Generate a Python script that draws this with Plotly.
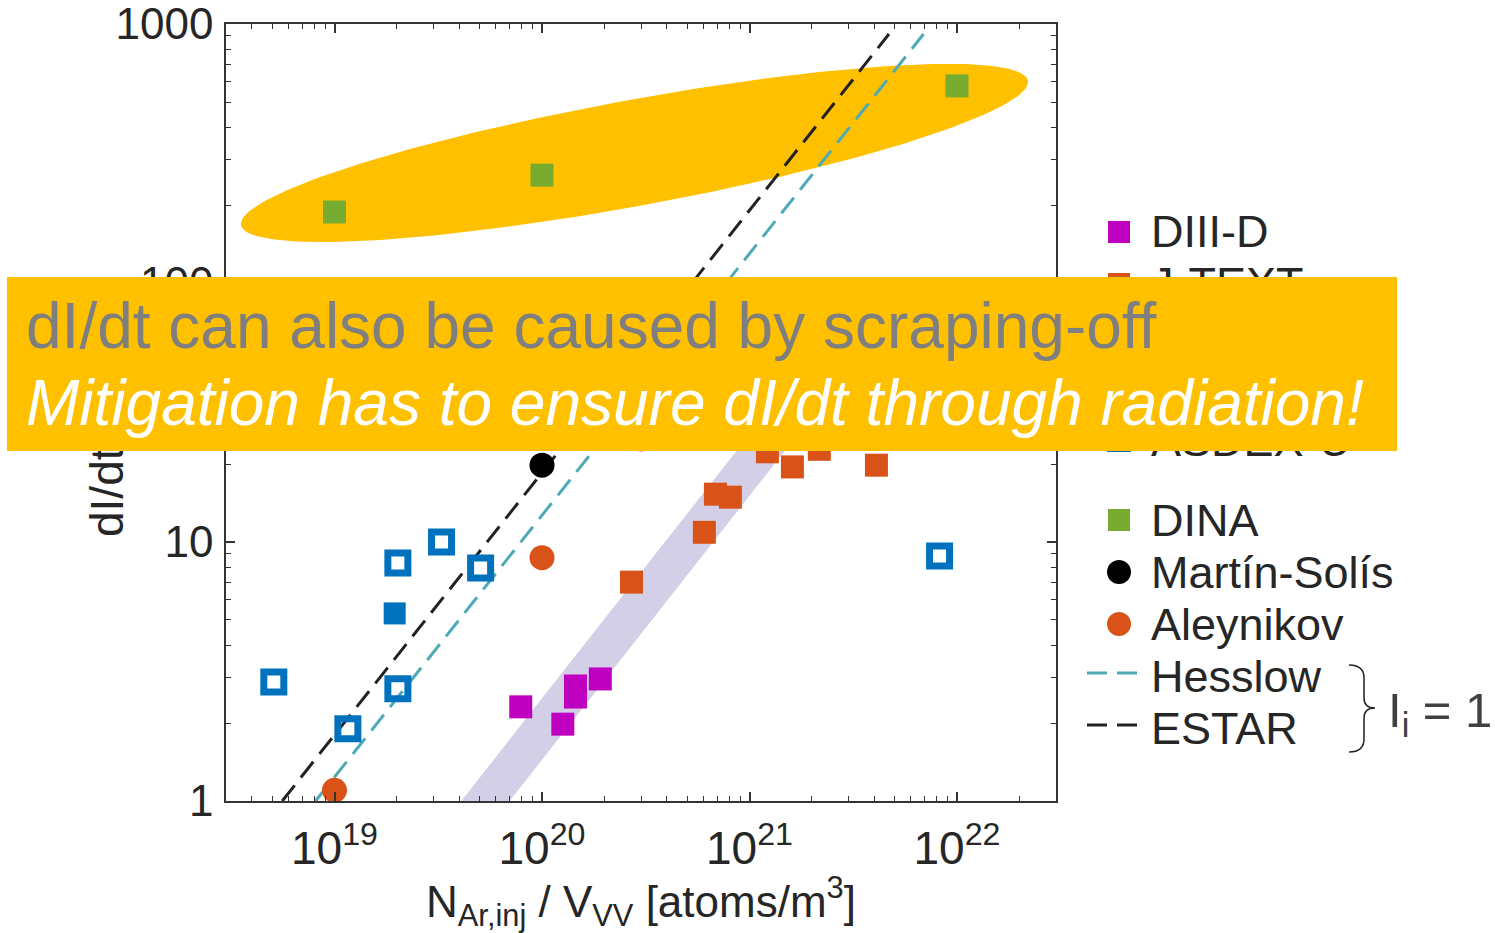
import numpy as np
import plotly.graph_objects as go

# ---------------- data ----------------
diiid_x = [7.9e19, 1.26e20, 1.45e20, 1.45e20, 1.91e20]
diiid_y = [2.31, 1.98, 2.78, 2.52, 2.96]

jtext_x = [2.70e20, 6.06e20, 6.85e20, 8.09e20, 1.22e21, 1.61e21, 2.17e21, 4.09e21]
jtext_y = [7.0, 10.9, 15.3, 14.9, 22.3, 19.5, 22.8, 19.8]

augf_x = [1.95e19]
augf_y = [5.3]

augo_x = [5.1e18, 1.16e19, 2.02e19, 2.02e19, 3.28e19, 5.06e19, 8.24e21]
augo_y = [2.88, 1.90, 2.71, 8.3, 10.0, 7.94, 8.83]

dina_x = [1e19, 1e20, 1e22]
dina_y = [188, 261, 577]

martin_x = [1e20]
martin_y = [19.8]

aley_x = [1e19, 1e20, 3.0e20]
aley_y = [1.10, 8.7, 25.0]

hesslow_x = [8.1e18, 6.9e21]
hesslow_y = [1.0, 915.0]

estar_x = [5.6e18, 4.7e21]
estar_y = [1.0, 915.0]

band_x = [2.6e19, 1.6e21]
band_y = [0.48, 32.0]

# highlighted DINA region (ellipse): centre, semi-axes (px), tilt (deg)
ell_cx, ell_cy = 2.79e20, 318.0
ell_a, ell_b, ell_tilt = 400.0, 53.0, 10.4

x_ticks = [1e19, 1e20, 1e21, 1e22]
x_ticktext = ["10<sup>19</sup>", "10<sup>20</sup>", "10<sup>21</sup>", "10<sup>22</sup>"]
y_ticks = [1, 10, 100, 1000]
y_ticktext = ["1", "10", "100", "1000"]

legend_names = ["DIII-D", "J-TEXT", "AUG (filled)", "ASDEX-U",
                "DINA", "Martín-Solís", "Aleynikov", "Hesslow", "ESTAR"]

# ---------------- layout geometry ----------------
W, H = 1495, 933
ML, MR, MT, MB = 226, 439, 24, 132
PW, PH = W - ML - MR, H - MT - MB
x_range = [np.log10(3e18), np.log10(3e22)]
y_range = [0, 3.0002]
px_per_dec_x = PW / (x_range[1] - x_range[0])
px_per_dec_y = PH / (y_range[1] - y_range[0])


def px(xp):
    return (xp - ML) / PW


def py(yp):
    return (H - MB - yp) / PH


# ellipse points in log space
t = np.linspace(0, 2 * np.pi, 240)
th = np.deg2rad(ell_tilt)
u, v = ell_a * np.cos(t), ell_b * np.sin(t)
dx = u * np.cos(th) - v * np.sin(th)
dy = u * np.sin(th) + v * np.cos(th)
ell_x = 10 ** (np.log10(ell_cx) + dx / px_per_dec_x)
ell_y = 10 ** (np.log10(ell_cy) + dy / px_per_dec_y)

BLUE = "#0072BD"
ORANGE = "#D95319"
MAGENTA = "#C000C0"
GREEN = "#77AC30"
TEAL = "#4FAAB6"
GOLD = "#FFC000"
DARK = "#222222"
DASH = "20px,10px"

fig = go.Figure()
fig.add_trace(go.Scatter(x=ell_x, y=ell_y, mode="lines", fill="toself",
                         fillcolor=GOLD, line=dict(width=0, color=GOLD),
                         showlegend=False, hoverinfo="skip"))
fig.add_trace(go.Scatter(x=band_x, y=band_y, mode="lines",
                         line=dict(width=38, color="#D2CFE7"),
                         showlegend=False, hoverinfo="skip"))

sq = dict(symbol="square", size=23, line=dict(width=0))

fig.add_trace(go.Scatter(x=hesslow_x, y=hesslow_y, mode="lines", name=legend_names[7],
                         line=dict(color=TEAL, width=3, dash=DASH)))
fig.add_trace(go.Scatter(x=estar_x, y=estar_y, mode="lines", name=legend_names[8],
                         line=dict(color=DARK, width=3, dash=DASH)))
fig.add_trace(go.Scatter(x=diiid_x, y=diiid_y, mode="markers", name=legend_names[0],
                         marker=dict(color=MAGENTA, **sq)))
fig.add_trace(go.Scatter(x=jtext_x, y=jtext_y, mode="markers", name=legend_names[1],
                         marker=dict(color=ORANGE, **sq)))
fig.add_trace(go.Scatter(x=augf_x, y=augf_y, mode="markers", name=legend_names[2],
                         marker=dict(color=BLUE, symbol="square", size=22, line=dict(width=0))))
fig.add_trace(go.Scatter(x=augo_x, y=augo_y, mode="markers", name=legend_names[3],
                         marker=dict(color=BLUE, symbol="square-open", size=20,
                                     line=dict(width=7, color=BLUE))))
fig.add_trace(go.Scatter(x=dina_x, y=dina_y, mode="markers", name=legend_names[4],
                         marker=dict(color=GREEN, **sq)))
fig.add_trace(go.Scatter(x=martin_x, y=martin_y, mode="markers", name=legend_names[5],
                         marker=dict(color="black", symbol="circle", size=25, line=dict(width=0))))
fig.add_trace(go.Scatter(x=aley_x, y=aley_y, mode="markers", name=legend_names[6],
                         marker=dict(color=ORANGE, symbol="circle", size=25, line=dict(width=0))))
fig.update_traces(showlegend=False)

AX = "#333333"
TXT = "#262626"
NARROW = "Liberation Sans Narrow, Arial Narrow, Liberation Sans"
axis_common = dict(type="log", showgrid=False, zeroline=False, showline=True,
                   linecolor=AX, linewidth=1.5, mirror="ticks", ticks="inside",
                   ticklen=9, tickwidth=1.5, tickcolor=AX, ticklabeloverflow="allow")

minor_x = [k * 10.0 ** e for e in range(18, 23) for k in range(2, 10)]
minor_y = [k * 10.0 ** e for e in range(0, 3) for k in range(2, 10)]

fig.update_layout(
    width=W, height=H,
    margin=dict(l=ML, r=MR, t=MT, b=MB, autoexpand=False),
    paper_bgcolor="white", plot_bgcolor="white",
    font=dict(family="Liberation Sans, Arial, sans-serif", color=TXT),
    showlegend=False,
    xaxis=dict(range=x_range, tickmode="array", tickvals=x_ticks, ticktext=x_ticktext,
               tickfont=dict(family=NARROW, size=46, color=TXT),
               ticklabelstandoff=6,
               minor=dict(tickmode="array", tickvals=minor_x, ticks="inside", ticklen=5,
                          tickwidth=1.2, tickcolor=AX),
               title=dict(text="N<sub>Ar,inj</sub> / V<sub>VV</sub> [atoms/m<sup>3</sup>]",
                          font=dict(family=NARROW, size=44, color=TXT),
                          standoff=6),
               **axis_common),
    yaxis=dict(range=y_range, tickmode="array", tickvals=y_ticks, ticktext=y_ticktext,
               tickfont=dict(family="Liberation Sans, Arial", size=44, color=TXT),
               ticklabelstandoff=2,
               minor=dict(tickmode="array", tickvals=minor_y, ticks="inside", ticklen=5,
                          tickwidth=1.2, tickcolor=AX),
               **axis_common),
)

# ---------------- hand-placed legend ----------------
leg_rows = [  # (name index, kind, colour, row centre px)
    (0, "square", MAGENTA, 232),
    (1, "square", ORANGE, 284),
    (2, "square", BLUE, 336),
    (3, "open", BLUE, 440),
    (4, "square", GREEN, 520),
    (5, "circle", "black", 572),
    (6, "circle", ORANGE, 624),
    (7, "dash", TEAL, 676),
    (8, "dash", DARK, 728),
]
leg_anns = []
for idx, kind, col, yc in leg_rows:
    if kind == "square":
        fig.add_shape(type="rect", xref="paper", yref="paper",
                      x0=px(1108), x1=px(1130), y0=py(yc + 11), y1=py(yc - 11),
                      fillcolor=col, line=dict(width=0))
    elif kind == "open":
        fig.add_shape(type="rect", xref="paper", yref="paper",
                      x0=px(1109.5), x1=px(1128.5), y0=py(yc + 9.5), y1=py(yc - 9.5),
                      fillcolor="white", line=dict(width=5, color=col))
    elif kind == "circle":
        fig.add_shape(type="circle", xref="paper", yref="paper",
                      x0=px(1107), x1=px(1131), y0=py(yc + 12), y1=py(yc - 12),
                      fillcolor=col, line=dict(width=0))
    else:
        fig.add_shape(type="line", xref="paper", yref="paper",
                      x0=px(1087), x1=px(1139), y0=py(yc - 3), y1=py(yc - 3),
                      line=dict(color=col, width=3, dash=DASH))
    leg_anns.append(dict(text=legend_names[idx], x=px(1149), y=py(yc),
                         xanchor="left", yanchor="middle",
                         font=dict(size=45, color=TXT)))

# curly brace for Hesslow / ESTAR
bx = [1349, 1364, 1375]
brace = (f"M {px(bx[0])},{py(665)} Q {px(bx[1])},{py(665)} {px(bx[1])},{py(678)} "
         f"L {px(bx[1])},{py(698)} Q {px(bx[1])},{py(708)} {px(bx[2])},{py(708)} "
         f"Q {px(bx[1])},{py(708)} {px(bx[1])},{py(718)} "
         f"L {px(bx[1])},{py(739)} Q {px(bx[1])},{py(752)} {px(bx[0])},{py(752)}")
fig.add_shape(type="path", path=brace, xref="paper", yref="paper",
              line=dict(color=DARK, width=1.5))

anns = [
    dict(text="dI/dt [MA/s]", x=px(107), y=py(420), textangle=-90,
         font=dict(size=46, color=TXT), xanchor="center", yanchor="middle"),
    dict(text="I<sub>i</sub> = 1", x=px(1386), y=py(713), xanchor="left", yanchor="middle",
         font=dict(size=49, color="#404040")),
] + leg_anns + [
    dict(text=" ", x=px(7), y=py(277), xanchor="left", yanchor="top",
         width=1390, height=174, bgcolor=GOLD, borderpad=0, borderwidth=0),
    dict(text="dI/dt can also be caused by scraping-off", x=px(24), y=py(326),
         xanchor="left", yanchor="middle", font=dict(size=64, color="#7F7F7F")),
    dict(text="<i>Mitigation has to ensure dI/dt through radiation!</i>", x=px(24), y=py(403),
         xanchor="left", yanchor="middle", font=dict(size=64, color="white")),
]
for a in anns:
    a.update(xref="paper", yref="paper", showarrow=False)
    fig.add_annotation(**a)

fig.write_html("out.html")
